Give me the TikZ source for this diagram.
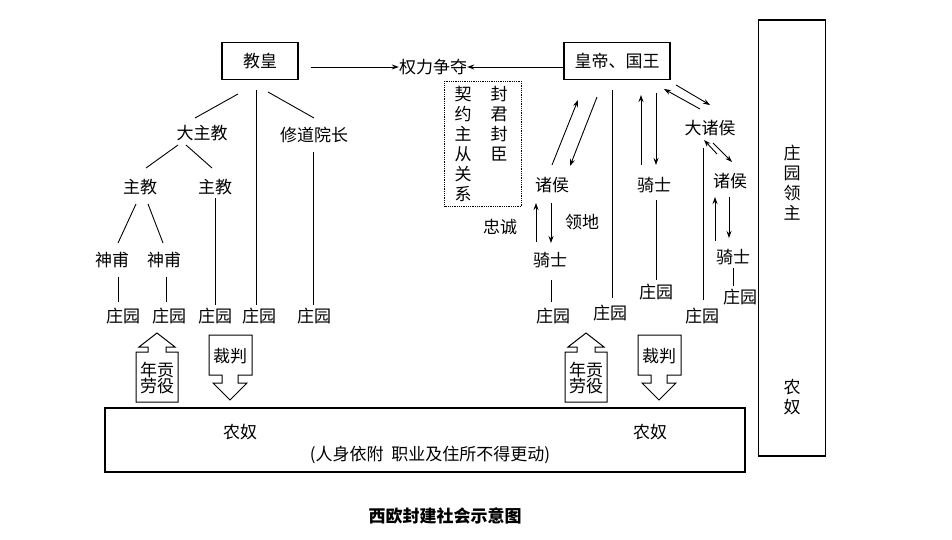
\documentclass[tikz,border=0pt]{standalone}
\usepackage{fontspec}
\setmainfont{Noto Sans CJK SC}
\usetikzlibrary{arrows.meta}
\begin{document}
\begin{tikzpicture}[x=1pt,y=-1pt,
  t/.style={inner sep=0pt,font=\fontsize{17}{20}\selectfont},
  ln/.style={line width=0.9pt},
  ar/.style={ln,-{Stealth[length=7pt,width=5pt]}},
  bx/.style={draw,line width=1.1pt}]
\useasboundingbox (0,0) rectangle (952,540);
% top boxes
\node[bx,t,minimum width=76pt,minimum height=37pt] (pope) at (260,61) {教皇};
\node[t] (power) at (433,67) {权力争夺};
\node[bx,t,minimum width=106pt,minimum height=37pt] (king) at (617,61) {皇帝、国王};
\draw[ar] (pope.east|-power) ++(12,0) coordinate (pa) -- (power.west);
\draw[ar] (king.west|-power) coordinate (ka) -- (power.east);
\node[draw,densely dotted,line width=0.8pt,minimum width=77pt,minimum height=125pt] (contract) at (483,144) {};
\node[t,align=center,text width=18pt] (c1) at (463,144) {契\\约\\主\\从\\关\\系};
\node[t,align=center,text width=18pt] (c2) at (499,124) {封\\君\\封\\臣};
% church side
\node[t] (abp) at (202,133) {大主教};
\node[t] (abbot) at (314,135) {修道院长};
\node[t] (b1) at (140,187) {主教};
\node[t] (b2) at (215,187) {主教};
\node[t] (p1) at (112,260) {神甫};
\node[t] (p2) at (164,260) {神甫};
\foreach \i/\x in {1/123,2/169,3/215,4/259,5/314}{\node[t] (m\i) at (\x,316) {庄园};}
\draw[ln] (238,94) -- (195,118);
\draw[ln] (268,92) -- (314,118);
\draw[ln] (256,90) -- (256,305);
\draw[ln] (178,145) -- (146,168);
\draw[ln] (186,145) -- (212,168);
\draw[ln] (136,204) -- (118,243);
\draw[ln] (148,204) -- (163,243);
\draw[ln] (118,277) -- (118,302);
\draw[ln] (166,277) -- (166,302);
\draw[ln] (215,198) -- (215,305);
\draw[ln] (313,152) -- (313,305);
% secular side
\node[t] (lord1) at (552,185) {诸侯};
\node[t] (kn1) at (550,260) {骑士};
\node[t] (loyal) at (500,227) {忠诚};
\node[t] (fief) at (582,222) {领地};
\node[t] (kn2) at (654,185) {骑士};
\node[t] (glord) at (710,128) {大诸侯};
\node[t] (lord2) at (730,181) {诸侯};
\node[t] (kn3) at (733,257) {骑士};
\node[t] (r1) at (553,316) {庄园};
\node[t] (r2) at (610,313) {庄园};
\node[t] (r3) at (656,292) {庄园};
\node[t] (r4) at (702,316) {庄园};
\node[t] (r5) at (740,297) {庄园};
\draw[ar] (552,165) -- (578,100);
\draw[ar] (597,97) -- (570,166);
\draw[ln] (612,90) -- (612,298);
\draw[ar] (641,165) -- (641,95);
\draw[ar] (656,93) -- (656,165);
\draw[ln] (656,200) -- (656,280);
\draw[ar] (676,85) -- (710,105);
\draw[ar] (700,109) -- (664,89);
\draw[ar] (713,143) -- (732,162);
\draw[ar] (717,154) -- (704,140);
\draw[ln] (703,300) -- (703,148);
\draw[ar] (536,242) -- (536,203);
\draw[ar] (551,203) -- (551,243);
\draw[ln] (551,280) -- (551,302);
\draw[ar] (715,241) -- (715,197);
\draw[ar] (729,197) -- (729,238);
\draw[ln] (733,268) -- (733,286);
% hollow arrows
\foreach \dx/\n in {0/L,429/R}{
\begin{scope}[xshift=\dx pt]
\draw[line width=1pt] (136,402) -- (178,402) -- (178,352) -- (166,352) -- (166,347) -- (175,347) -- (157,333) -- (139,347) -- (148,347) -- (148,352) -- (136,352) -- cycle;
\draw[line width=1pt] (209,335) -- (252,335) -- (252,375) -- (238,375) -- (238,383) -- (247,383) -- (230,400) -- (213,383) -- (222,383) -- (222,375) -- (209,375) -- cycle;
\end{scope}}
\node[t,align=center] (tax1) at (157,378) {年贡\\[-4pt]劳役};
\node[t] (judge1) at (230,356) {裁判};
\node[t,align=center] (tax2) at (586,378) {年贡\\[-4pt]劳役};
\node[t] (judge2) at (659,356) {裁判};
% serf box
\node[bx,minimum width=640pt,minimum height=64pt] (serfbox) at (425,440) {};
\node[t] (s1) at (240,432) {农奴};
\node[t] (s2) at (650,432) {农奴};
\node[t] (s3) at (430,455) {(人身依附\ \ 职业及住所不得更动)};
% right tall box
\node[bx,minimum width=67pt,minimum height=436pt] (manor) at (792,238) {};
\node[t,align=center] (ml) at (792,183) {庄\\园\\领\\主};
\node[t,align=center] (ms) at (792,397) {农\\奴};
\node[inner sep=0pt,font=\bfseries\fontsize{17}{20}\selectfont] (cap) at (445,516) {西欧封建社会示意图};
\end{tikzpicture}
\end{document}
